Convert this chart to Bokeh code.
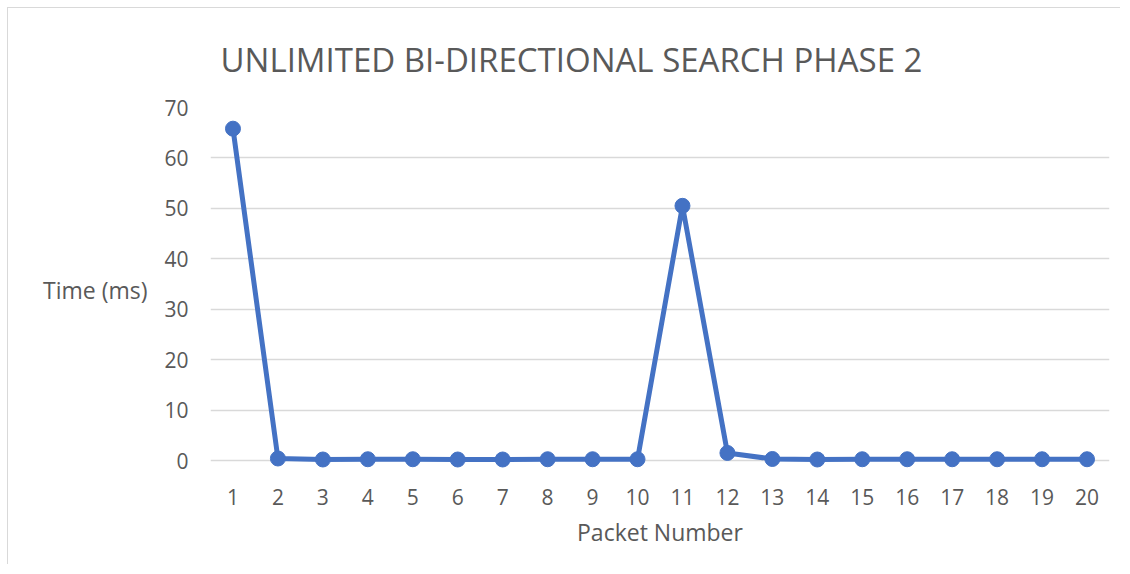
from bokeh.plotting import figure
from bokeh.models import FixedTicker, Range1d
from bokeh.embed import file_html
from bokeh.resources import INLINE

packets = list(range(1, 21))
times = [65.8, 0.4, 0.2, 0.25, 0.25, 0.2, 0.2, 0.25, 0.25, 0.25,
         50.5, 1.5, 0.3, 0.2, 0.25, 0.25, 0.25, 0.25, 0.25, 0.25]
y_ticks = [0, 10, 20, 30, 40, 50, 60, 70]
title_text = "UNLIMITED BI-DIRECTIONAL SEARCH PHASE 2"
y_label = "Time (ms)"
x_label = "Packet Number"

FONT = "Open Sans"
TXT = "#595959"
BLUE = "#4472C4"

p = figure(width=1113, height=557, output_backend="svg", toolbar_location=None,
           x_range=Range1d(0.5, 20.5), y_range=Range1d(-2.18, 70),
           min_border_left=202, min_border_right=12, min_border_top=99,
           min_border_bottom=94)
p.styles = {"border-left": "1px solid #d9d9d9", "border-top": "1px solid #d9d9d9",
            "margin-left": "7px", "margin-top": "7px"}
p.outline_line_color = None
p.background_fill_color = "white"
p.border_fill_color = "white"

p.title.text = title_text
p.title.align = "left"
p.title.offset = 10
p.title.standoff = 51
p.title.text_font = FONT
p.title.text_font_size = "33px"
p.title.text_font_style = "normal"
p.title.text_color = TXT

p.xgrid.visible = False
p.ygrid.grid_line_color = "#d9d9d9"
p.ygrid.grid_line_width = 1.5
p.yaxis.ticker = FixedTicker(ticks=y_ticks)
p.xaxis.ticker = FixedTicker(ticks=packets)

for ax in (p.xaxis, p.yaxis):
    ax.axis_line_color = None
    ax.major_tick_line_color = None
    ax.minor_tick_line_color = None
    ax.major_label_text_font = FONT
    ax.major_label_text_font_size = "21px"
    ax.major_label_text_color = TXT
    ax.axis_label_text_font = FONT
    ax.axis_label_text_font_size = "23px"
    ax.axis_label_text_font_style = "normal"
    ax.axis_label_text_color = TXT
p.yaxis.major_label_standoff = 16
p.xaxis.major_label_standoff = 11

p.xaxis.axis_label = x_label
p.xaxis.axis_label_standoff = 8
p.yaxis.axis_label = y_label
p.yaxis.axis_label_orientation = "horizontal"
p.yaxis.axis_label_standoff = 14

p.line(packets, times, line_color=BLUE, line_width=5)
p.scatter(packets, times, size=15, fill_color=BLUE, line_color=BLUE)

open("out.html", "w").write(file_html(p, INLINE))
